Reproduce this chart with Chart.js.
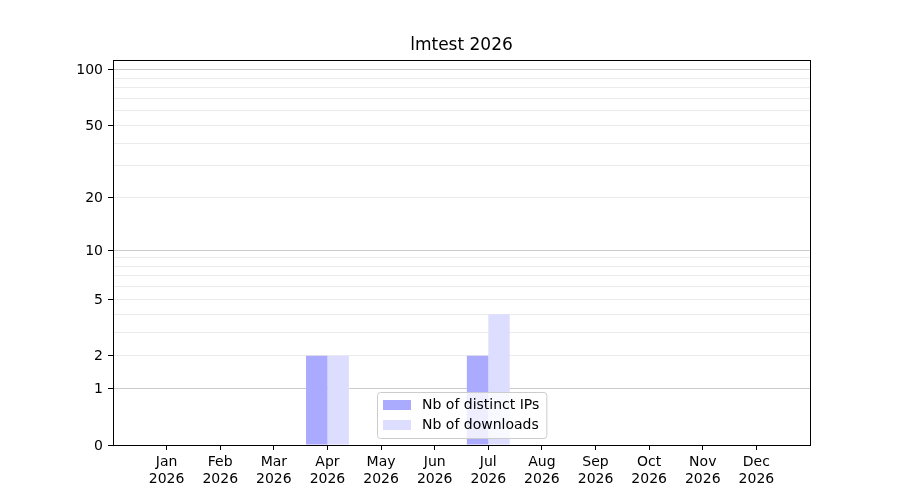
<!DOCTYPE html>
<html>
<head>
<meta charset="utf-8">
<script src="https://cdn.jsdelivr.net/npm/chart.js@4"></script>
<style>
  html, body { margin: 0; padding: 0; background: #fff; }
  #wrap { width: 900px; height: 500px; }
</style>
</head>
<body>
<div id="wrap"><canvas id="chart"></canvas></div>
<script>
// data
const months = ['Jan', 'Feb', 'Mar', 'Apr', 'May', 'Jun', 'Jul', 'Aug', 'Sep', 'Oct', 'Nov', 'Dec'];
const year = '2026';
const ipCounts = [0, 0, 0, 2, 0, 0, 2, 0, 0, 0, 0, 0];
const downloadCounts = [0, 0, 0, 2, 0, 0, 4, 0, 0, 0, 0, 0];
const yTickLabels = [0, 1, 2, 5, 10, 20, 50, 100];
const yMinorTicks = [3, 4, 6, 7, 8, 9, 30, 40, 60, 70, 80, 90];
const yMajorGrid = [1, 10, 100];
const titleText = 'lmtest 2026';

const FONT = "'DejaVu Sans', sans-serif";

// y axis in log10(1 + v), like the original plot
class Log1pScale extends Chart.LinearScale {
  static id = 'log1p';
  buildTicks() {
    return yTickLabels.concat(yMinorTicks).sort((a, b) => a - b).map(v => ({ value: v }));
  }
  configure() {
    super.configure();
    this._t0 = Math.log10(1 + this.min);
    this._tRange = Math.log10(1 + this.max) - this._t0;
  }
  getPixelForValue(v) {
    return this.getPixelForDecimal((Math.log10(1 + v) - this._t0) / this._tRange);
  }
  getValueForPixel(p) {
    return Math.pow(10, this._t0 + this.getDecimalForPixel(p) * this._tRange) - 1;
  }
}
Chart.register(Log1pScale);

// matplotlib-ish frame, title over the axes and legend inside the plot
const framePlugin = {
  id: 'frame',
  afterDraw(chart) {
    const { ctx, chartArea: a } = chart;
    ctx.save();
    ctx.strokeStyle = '#000';
    ctx.lineWidth = 1;
    ctx.strokeRect(a.left + 0.5, a.top + 0.5, a.right - a.left, a.bottom - a.top);

    ctx.fillStyle = '#000';
    ctx.font = '17px ' + FONT;
    ctx.textAlign = 'center';
    ctx.textBaseline = 'middle';
    ctx.fillText(titleText, (a.left + a.right) / 2, 46);

    // legend, lower center
    ctx.textAlign = 'left';
    ctx.font = '14px ' + FONT;
    const items = chart.data.datasets;
    const textW = Math.max(...items.map(d => ctx.measureText(d.label).width));
    const w = 6 + 28 + 11 + textW + 7;
    const h = 46;
    const x = Math.round((a.left + a.right) / 2 - w / 2);
    const y = a.bottom - 7 - h;
    ctx.fillStyle = 'rgba(255,255,255,0.8)';
    ctx.strokeStyle = '#cccccc';
    ctx.beginPath();
    ctx.roundRect(x + 0.5, y + 0.5, w, h, 3);
    ctx.fill();
    ctx.stroke();
    items.forEach((d, i) => {
      const cy = y + 13 + i * 20;
      ctx.fillStyle = d.backgroundColor;
      ctx.fillRect(x + 6, cy - 5, 28, 10);
      ctx.fillStyle = '#000';
      ctx.fillText(d.label, x + 45, cy);
    });
    ctx.restore();
  }
};

new Chart(document.getElementById('chart'), {
  type: 'bar',
  data: {
    datasets: [
      {
        label: 'Nb of distinct IPs',
        data: ipCounts.map((v, i) => ({ x: i, y: v })),
        backgroundColor: 'rgb(170,170,255)',
        borderWidth: 0
      },
      {
        label: 'Nb of downloads',
        data: downloadCounts.map((v, i) => ({ x: i, y: v })),
        backgroundColor: 'rgb(221,221,255)',
        borderWidth: 0
      }
    ]
  },
  options: {
    responsive: true,
    maintainAspectRatio: false,
    animation: false,
    categoryPercentage: 0.8,
    barPercentage: 1.0,
    layout: { padding: { left: 0, right: 90, top: 60, bottom: 0 } },
    plugins: {
      legend: { display: false },
      tooltip: { enabled: false },
      title: { display: false }
    },
    scales: {
      x: {
        type: 'linear',
        min: -1,
        max: 12,
        offset: false,
        afterBuildTicks: s => { s.ticks = months.map((m, i) => ({ value: i })); },
        afterFit: s => { s.height = 55; },
        grid: { offset: false, drawOnChartArea: false, tickLength: 5, tickColor: '#000' },
        border: { color: '#000', width: 1 },
        ticks: {
          autoSkip: false,
          maxRotation: 0,
          padding: 4,
          color: '#000',
          font: { family: FONT, size: 14 },
          callback: v => [months[v], year]
        }
      },
      y: {
        type: 'log1p',
        min: 0,
        max: 113,
        z: 1,
        afterFit: s => { s.width = 113; },
        grid: {
          tickLength: 5,
          color: c => {
            const v = c.tick && c.tick.value;
            if (v === 0) return 'rgba(0,0,0,0)';
            return yMajorGrid.includes(v) ? '#cccccc' : '#ebebeb';
          },
          tickColor: c => yTickLabels.includes(c.tick && c.tick.value) ? '#000' : 'rgba(0,0,0,0)'
        },
        border: { color: '#000', width: 1 },
        ticks: {
          autoSkip: false,
          padding: 5,
          labelOffset: 1,
          color: '#000',
          font: { family: FONT, size: 14 },
          callback: v => yTickLabels.includes(v) ? String(v) : ''
        }
      }
    }
  },
  plugins: [framePlugin]
});
</script>
</body>
</html>
